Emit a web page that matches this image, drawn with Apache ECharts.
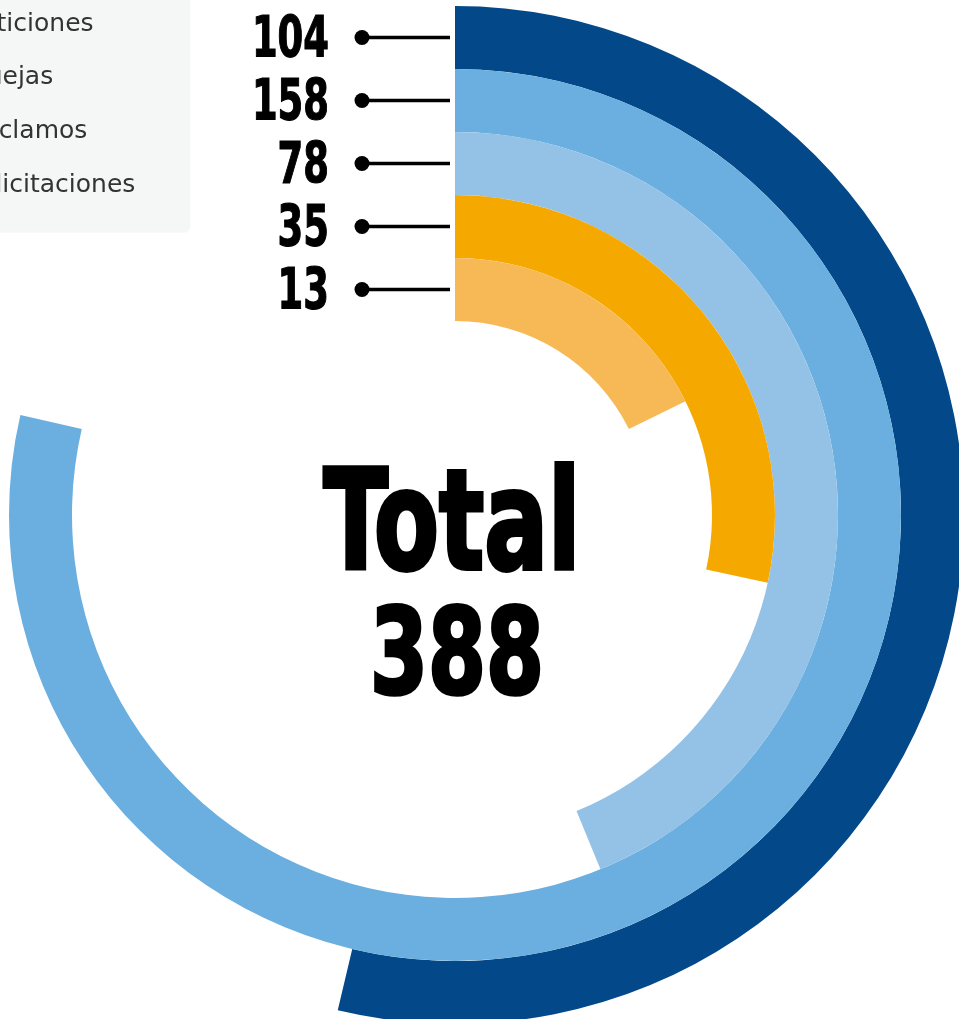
<!DOCTYPE html>
<html>
<head>
<meta charset="utf-8">
<script src="https://cdn.jsdelivr.net/npm/echarts@6/dist/echarts.min.js"></script>
<style>
html,body{margin:0;padding:0;background:#fff;}
#chart{width:959px;height:1019px;}
</style>
</head>
<body>
<div id="chart"></div>
<script>
// Ring names (legend order, outer ring first)
const seriesNames = ['Sugerencias', 'Peticiones', 'Quejas', 'Reclamos', 'Felicitaciones'];
// Counts shown beside each ring
const values = [104, 158, 78, 35, 13];
const arcShare = [53.7, 78.6, 43.8, 28.4, 17.7];
const colors = ['#03498a', '#6aafdf', '#94c2e7', '#f5a900', '#f7b955'];
const totalLabel = 'Total';

const total = values.reduce((a, b) => a + b, 0);

const FONT_COND = '"Liberation Sans Narrow", "DejaVu Sans Condensed", sans-serif';

const chart = echarts.init(document.getElementById('chart'), null, {renderer: 'canvas'});

const barSeries = seriesNames.map((name, i) => ({
  type: 'bar',
  name: name,
  coordinateSystem: 'polar',
  data: seriesNames.map((_, j) => (j === i ? arcShare[i] : '-')),
  barGap: '-100%',
  barCategoryGap: '0%',
  itemStyle: {color: colors[i]},
  emphasis: {disabled: true},
  animation: false
}));

const labelSeries = {
  type: 'custom',
  name: 'labels',
  coordinateSystem: 'polar',
  silent: true,
  animation: false,
  z: 10,
  encode: {radius: 0, angle: 1},
  data: values.map((v, i) => [i, 0, v]),
  renderItem: function (params, api) {
    const p = api.coord([api.value(0), api.value(1)]);
    const x = p[0], y = p[1];
    return {
      type: 'group',
      children: [
        {type: 'line', shape: {x1: x - 93, y1: y, x2: x - 5, y2: y},
         style: {stroke: '#000', lineWidth: 3.5}},
        {type: 'circle', shape: {cx: x - 93, cy: y, r: 7.5}, style: {fill: '#000'}},
        {type: 'text', x: x - 126, y: y + 5, scaleX: 0.72,
         style: {text: String(api.value(2)), font: 'bold 57px ' + FONT_COND,
                 textAlign: 'right', align: 'right', textVerticalAlign: 'middle', verticalAlign: 'middle',
                 fill: '#000', stroke: '#000', lineWidth: 1.2}}
      ]
    };
  }
};

chart.setOption({
  backgroundColor: '#ffffff',
  animation: false,
  polar: {center: [455, 515], radius: [194, 509]},
  angleAxis: {type: 'value', min: 0, max: 100, startAngle: 90, clockwise: true, show: false,
              splitLine: {show: false}, axisLine: {show: false}},
  radiusAxis: {type: 'category', data: seriesNames, inverse: true, show: false,
               splitLine: {show: false}, axisLine: {show: false}},
  legend: {
    data: seriesNames,
    orient: 'vertical',
    left: -83,
    top: -79,
    padding: [37, 55, 35, 20],
    itemWidth: 25,
    itemHeight: 14,
    itemGap: 28.67,
    icon: 'roundRect',
    backgroundColor: '#f5f7f7',
    borderRadius: 6,
    selectedMode: false,
    textStyle: {fontFamily: '"DejaVu Sans", sans-serif', fontWeight: 'normal', fontSize: 25, lineHeight: 24, color: '#333333'}
  },
  graphic: [
    {type: 'text', x: 452, y: 533, scaleX: 0.756, silent: true,
     style: {text: totalLabel, font: 'bold 139px ' + FONT_COND,
             textAlign: 'center', align: 'center', textVerticalAlign: 'middle', verticalAlign: 'middle',
             fill: '#000', stroke: '#000', lineWidth: 4}},
    {type: 'text', x: 457, y: 662, scaleX: 0.778, silent: true,
     style: {text: String(total), font: 'bold 119px ' + FONT_COND,
             textAlign: 'center', align: 'center', textVerticalAlign: 'middle', verticalAlign: 'middle',
             fill: '#000', stroke: '#000', lineWidth: 3.5}}
  ],
  series: barSeries.concat([labelSeries])
});
</script>
</body>
</html>
